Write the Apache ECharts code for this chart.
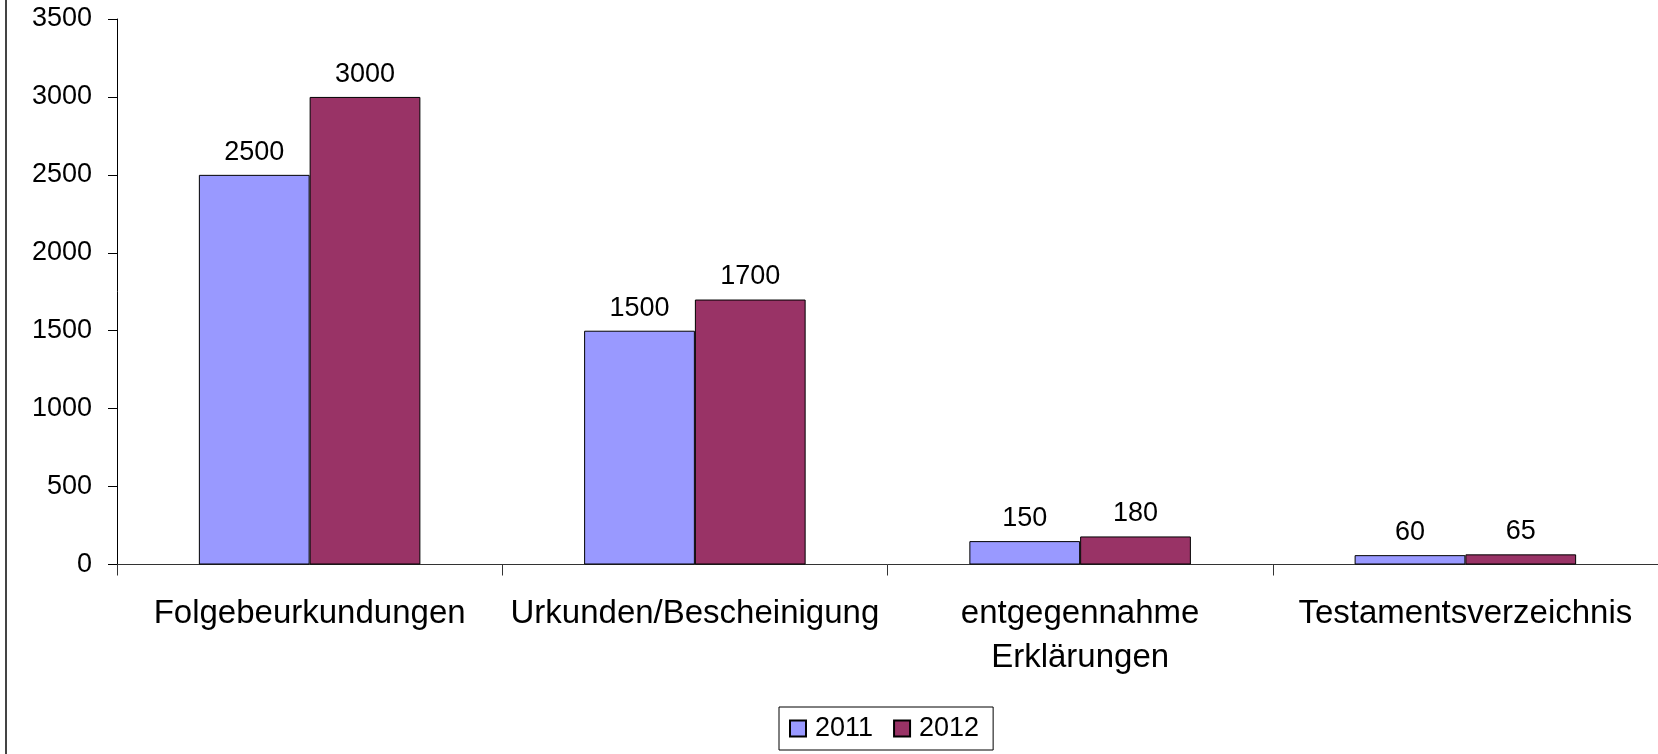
<!DOCTYPE html>
<html>
<head>
<meta charset="utf-8">
<script src="https://cdn.jsdelivr.net/npm/echarts@6/dist/echarts.min.js"></script>
<style>
html,body{margin:0;padding:0;background:#fff;}
#chart{width:1658px;height:754px;}
</style>
</head>
<body>
<div id="chart"></div>
<script>
const categories = ['Folgebeurkundungen', 'Urkunden/Bescheinigung', 'entgegennahme\nErklärungen', 'Testamentsverzeichnis'];
const seriesNames = ['2011', '2012'];
const values2011 = [2500, 1500, 150, 60];
const values2012 = [3000, 1700, 180, 65];
const yTicks = { min: 0, max: 3500, interval: 500 };

const FONT = '"Liberation Sans", Arial, sans-serif';
const chart = echarts.init(document.getElementById('chart'), null, { renderer: 'canvas' });

const labelStyle = {
  show: true,
  position: 'top',
  distance: 9,
  color: '#000',
  fontSize: 27,
  fontFamily: FONT
};

chart.setOption({
  animation: false,
  backgroundColor: '#fff',
  graphic: [{
    type: 'line',
    shape: { x1: 6, y1: 0, x2: 6, y2: 754 },
    style: { stroke: '#444', lineWidth: 2 }
  }],
  grid: { left: 117, top: 19, right: -2, bottom: 189.5, containLabel: false },
  legend: {
    left: 779,
    top: 707,
    data: seriesNames,
    icon: 'rect',
    itemWidth: 16,
    itemHeight: 16,
    itemGap: 20,
    borderColor: '#000',
    borderWidth: 1,
    padding: [8, 14, 8, 10],
    textStyle: { fontSize: 27, fontFamily: FONT, color: '#000', padding: [0, 0, 0, 4] }
  },
  xAxis: {
    type: 'category',
    data: categories,
    axisLine: { show: true, lineStyle: { color: '#333', width: 1 } },
    axisTick: { show: true, length: 11, lineStyle: { color: '#333' } },
    axisLabel: {
      color: '#000',
      fontSize: 33,
      fontFamily: FONT,
      margin: 27,
      lineHeight: 44,
      interval: 0
    },
    splitLine: { show: false }
  },
  yAxis: {
    type: 'value',
    min: yTicks.min,
    max: yTicks.max,
    interval: yTicks.interval,
    axisLine: { show: true, lineStyle: { color: '#000', width: 1 } },
    axisTick: { show: true, length: 9, lineStyle: { color: '#000' } },
    axisLabel: { color: '#000', fontSize: 27, fontFamily: FONT, margin: 25, formatter: function (v) { return String(v); } },
    splitLine: { show: false }
  },
  series: [
    {
      name: seriesNames[0],
      type: 'bar',
      data: values2011,
      barGap: '0%',
      barCategoryGap: '42.5%',
      itemStyle: { color: '#9999FF', borderColor: '#000', borderWidth: 1 },
      label: labelStyle
    },
    {
      name: seriesNames[1],
      type: 'bar',
      data: values2012,
      barGap: '0%',
      barCategoryGap: '42.5%',
      itemStyle: { color: '#993366', borderColor: '#000', borderWidth: 1 },
      label: labelStyle
    }
  ]
});
</script>
</body>
</html>
